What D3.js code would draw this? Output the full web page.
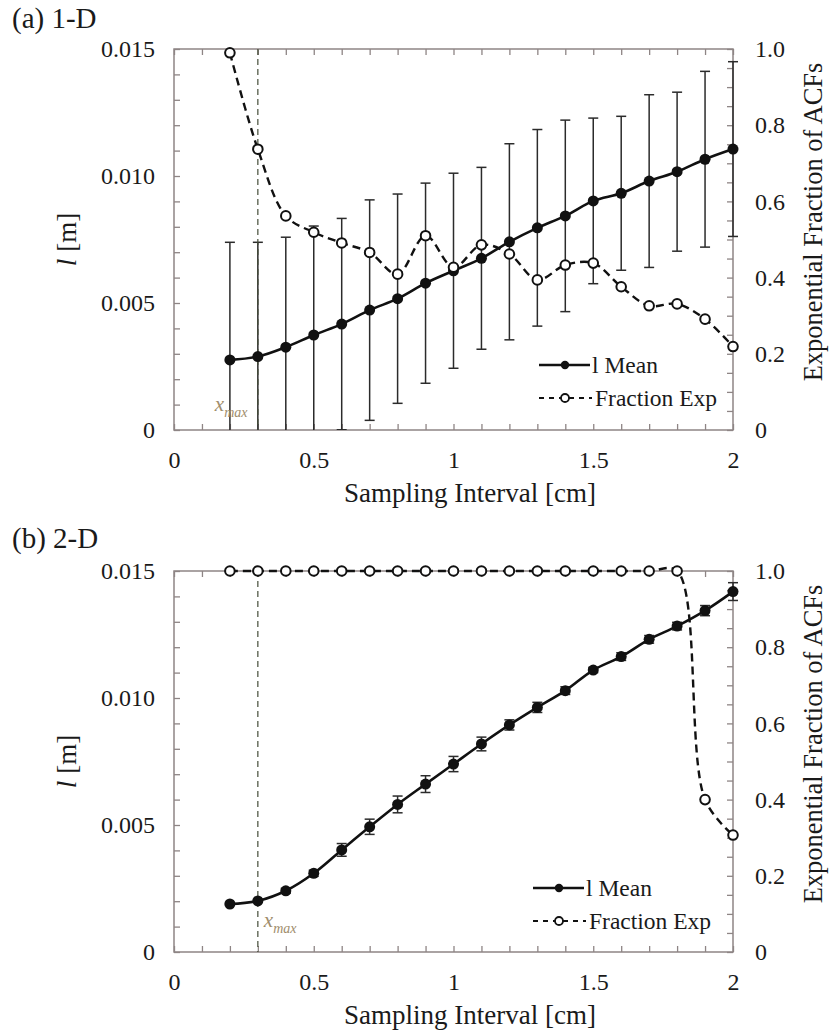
<!DOCTYPE html>
<html>
<head>
<meta charset="utf-8">
<script src="https://cdn.jsdelivr.net/npm/d3@7"></script>
<style>
  html, body { margin: 0; padding: 0; background: #fff; }
  svg { display: block; }
  svg text { font-family: 'Liberation Serif', 'DejaVu Serif', serif !important; fill: #1a1a1a; }
</style>
</head>
<body>
<svg id="chart" width="830" height="1031"></svg>
<script>
// Sampling intervals [cm]
const interval = [0.2, 0.3, 0.4, 0.5, 0.6, 0.7, 0.8, 0.9, 1.0, 1.1, 1.2, 1.3, 1.4, 1.5, 1.6, 1.7, 1.8, 1.9, 2.0];

// (a) 1-D: mean correlation length l [m], its standard deviation, and exponential fraction
const mean1D = [0.00276, 0.00289, 0.00326, 0.00374, 0.00417, 0.00472, 0.00517, 0.00578, 0.00627, 0.00676,
                0.00741, 0.00796, 0.00843, 0.00902, 0.00932, 0.00980, 0.01017, 0.01066, 0.01106];
const sd1D   = [0.00463, 0.00450, 0.00433, 0.00429, 0.00416, 0.00434, 0.00412, 0.00394, 0.00384, 0.00358,
                0.00386, 0.00387, 0.00377, 0.00326, 0.00303, 0.00340, 0.00313, 0.00346, 0.00344];
const frac1D = [0.990, 0.737, 0.562, 0.519, 0.491, 0.466, 0.409, 0.510, 0.427, 0.486,
                0.462, 0.394, 0.433, 0.438, 0.376, 0.326, 0.331, 0.291, 0.219];

// (b) 2-D
const mean2D = [0.00189, 0.00201, 0.00241, 0.00310, 0.00402, 0.00493, 0.00581, 0.00661, 0.00740, 0.00819,
                0.00894, 0.00963, 0.01029, 0.01110, 0.01163, 0.01231, 0.01283, 0.01344, 0.01419];
const sd2D   = [0.00003, 0.00005, 0.00010, 0.00012, 0.00025, 0.00030, 0.00033, 0.00033, 0.00030, 0.00027,
                0.00020, 0.00020, 0.00015, 0.00010, 0.00015, 0.00015, 0.00015, 0.00020, 0.00035];
const frac2D = [1, 1, 1, 1, 1, 1, 1, 1, 1, 1, 1, 1, 1, 1, 1, 1, 1, 0.40, 0.307];

// x_max marker position [cm]
const xMax = 0.3;

// Tick values
const xTicksMajor = [0, 0.5, 1, 1.5, 2];
const xTicksMinor = d3.range(0, 21).map(i => i / 10);
const yLTicksMajor = [0, 0.005, 0.010, 0.015];
const yLTicksMinor = d3.range(0, 16).map(i => i / 1000);
const yRTicksMajor = [0, 0.2, 0.4, 0.6, 0.8, 1.0];
const yRTicksMinor = d3.range(0, 21).map(i => i / 20);

const panels = [
  { label: "(a) 1-D", top: 49, mean: mean1D, sd: sd1D, frac: frac1D,
    labelY: 28, legend: { x: 539, y: 365 }, xmaxLabel: { dx: -43, y: 411 }, rightTitleY: 222 },
  { label: "(b) 2-D", top: 571, mean: mean2D, sd: sd2D, frac: frac2D,
    labelY: 548, legend: { x: 533, y: 888 }, xmaxLabel: { dx: 6, y: 927 }, rightTitleY: 744 }
];

const svg = d3.select("#chart");
const left = 174, W = 559, H = 381;
const frameColor = "#8e8585";
const tickFont = 24;

const x = d3.scaleLinear().domain([0, 2]).range([0, W]);
const yL = d3.scaleLinear().domain([0, 0.015]).range([H, 0]);
const yR = d3.scaleLinear().domain([0, 1]).range([H, 0]);

const fmtL = d => d === 0 ? "0" : d3.format(".3f")(d);
const fmtR = d => d === 0 ? "0" : d3.format(".1f")(d);
const fmtX = d => String(d);

panels.forEach((p, pi) => {
  // Panel label
  svg.append("text")
    .attr("x", 12).attr("y", p.labelY)
    .attr("font-size", 29)
    .text(p.label);

  const g = svg.append("g").attr("transform", `translate(${left},${p.top})`);

  const clipId = "clip" + pi;
  g.append("clipPath").attr("id", clipId)
    .append("rect").attr("x", -10).attr("y", -20).attr("width", W + 20).attr("height", H + 20);

  // Frame
  g.append("rect")
    .attr("x", 0).attr("y", 0).attr("width", W).attr("height", H)
    .attr("fill", "none").attr("stroke", frameColor).attr("stroke-width", 1.5);

  const styleTicks = sel => {
    sel.attr("font-family", null);
    sel.select(".domain").remove();
    sel.selectAll(".tick line").attr("stroke", frameColor).attr("stroke-width", 1.3);
    sel.selectAll(".tick text").attr("font-size", tickFont);
  };

  // Inward minor ticks on all four sides
  g.append("g").attr("transform", `translate(0,${H})`)
    .call(d3.axisBottom(x).tickValues(xTicksMinor).tickSize(-6).tickFormat(""))
    .call(styleTicks);
  g.append("g")
    .call(d3.axisTop(x).tickValues(xTicksMinor).tickSize(-6).tickFormat(""))
    .call(styleTicks);
  g.append("g")
    .call(d3.axisLeft(yL).tickValues(yLTicksMinor).tickSize(-6).tickFormat(""))
    .call(styleTicks);
  g.append("g").attr("transform", `translate(${W},0)`)
    .call(d3.axisRight(yR).tickValues(yRTicksMinor).tickSize(-6).tickFormat(""))
    .call(styleTicks);

  // Tick labels
  g.append("g").attr("transform", `translate(0,${H})`)
    .call(d3.axisBottom(x).tickValues(xTicksMajor).tickSize(0).tickPadding(21).tickFormat(fmtX))
    .call(styleTicks);
  g.append("g")
    .call(d3.axisLeft(yL).tickValues(yLTicksMajor).tickSize(0).tickPadding(19).tickFormat(fmtL))
    .call(styleTicks);
  g.append("g").attr("transform", `translate(${W},0)`)
    .call(d3.axisRight(yR).tickValues(yRTicksMajor).tickSize(0).tickPadding(22).tickFormat(fmtR))
    .call(styleTicks);

  // Axis titles
  g.append("text")
    .attr("x", 296).attr("y", H + 72)
    .attr("text-anchor", "middle").attr("font-size", 27)
    .text("Sampling Interval [cm]");

  const lt = svg.append("text")
    .attr("transform", `translate(76,${p.top + H / 2}) rotate(-90)`)
    .attr("text-anchor", "middle").attr("font-size", 27);
  lt.append("tspan").attr("font-style", "italic").text("l");
  lt.append("tspan").text(" [m]");

  svg.append("text")
    .attr("transform", `translate(822,${p.rightTitleY}) rotate(-90)`)
    .attr("text-anchor", "middle").attr("font-size", 26.5)
    .text("Exponential Fraction of ACFs");

  const rows = interval.map((v, i) => ({ x: v, m: p.mean[i], s: p.sd[i], f: p.frac[i] }));

  // Error bars (± one standard deviation)
  const eb = g.append("g").attr("clip-path", `url(#${clipId})`)
    .attr("stroke", "#2b2b2b").attr("stroke-width", 1.5);
  rows.forEach(d => {
    const cx = x(d.x);
    const y1 = yL(d.m + d.s), y0 = yL(d.m - d.s);
    eb.append("line").attr("x1", cx).attr("x2", cx).attr("y1", y1).attr("y2", y0);
    eb.append("line").attr("x1", cx - 5).attr("x2", cx + 5).attr("y1", y1).attr("y2", y1);
    eb.append("line").attr("x1", cx - 5).attr("x2", cx + 5).attr("y1", y0).attr("y2", y0);
  });

  // x_max reference line
  g.append("line")
    .attr("x1", x(xMax)).attr("x2", x(xMax)).attr("y1", 0).attr("y2", H)
    .attr("stroke", "#444c38").attr("stroke-width", 1.2).attr("stroke-dasharray", "6,4");

  const xl = g.append("text")
    .attr("x", x(xMax) + p.xmaxLabel.dx).attr("y", p.xmaxLabel.y - p.top)
    .attr("font-style", "italic").attr("font-size", 21)
    .style("fill", "#a08d6c");
  xl.append("tspan").text("x");
  xl.append("tspan").attr("dy", 6).attr("font-size", 14).text("max");

  const curve = d3.curveCatmullRom.alpha(0.5);

  // Mean line
  g.append("path")
    .datum(rows)
    .attr("fill", "none").attr("stroke", "#111").attr("stroke-width", 2.6)
    .attr("d", d3.line().x(d => x(d.x)).y(d => yL(d.m)).curve(curve));
  g.selectAll(".meanpt").data(rows).enter().append("circle")
    .attr("cx", d => x(d.x)).attr("cy", d => yL(d.m)).attr("r", 5.5)
    .attr("fill", "#111");

  // Exponential fraction line
  g.append("path")
    .datum(rows)
    .attr("fill", "none").attr("stroke", "#111").attr("stroke-width", 2.4)
    .attr("stroke-dasharray", "8,5")
    .attr("d", d3.line().x(d => x(d.x)).y(d => yR(d.f)).curve(curve));
  g.selectAll(".fracpt").data(rows).enter().append("circle")
    .attr("cx", d => x(d.x)).attr("cy", d => yR(d.f)).attr("r", 4.8)
    .attr("fill", "#fff").attr("stroke", "#111").attr("stroke-width", 2);

  // Legend
  const lg = svg.append("g").attr("transform", `translate(${p.legend.x},${p.legend.y})`);
  lg.append("line").attr("x1", 0).attr("x2", 51).attr("y1", 0).attr("y2", 0)
    .attr("stroke", "#111").attr("stroke-width", 2.4);
  lg.append("circle").attr("cx", 26).attr("cy", 0).attr("r", 4.2).attr("fill", "#111");
  lg.append("text").attr("x", 53).attr("y", 8).attr("font-size", 23.5).text("l Mean");

  lg.append("line").attr("x1", 0).attr("x2", 53).attr("y1", 33).attr("y2", 33)
    .attr("stroke", "#111").attr("stroke-width", 2.2).attr("stroke-dasharray", "5,5");
  lg.append("circle").attr("cx", 26).attr("cy", 33).attr("r", 4).attr("fill", "#fff")
    .attr("stroke", "#111").attr("stroke-width", 1.8);
  lg.append("text").attr("x", 56).attr("y", 41).attr("font-size", 23.5).text("Fraction Exp");
});
</script>
</body>
</html>
